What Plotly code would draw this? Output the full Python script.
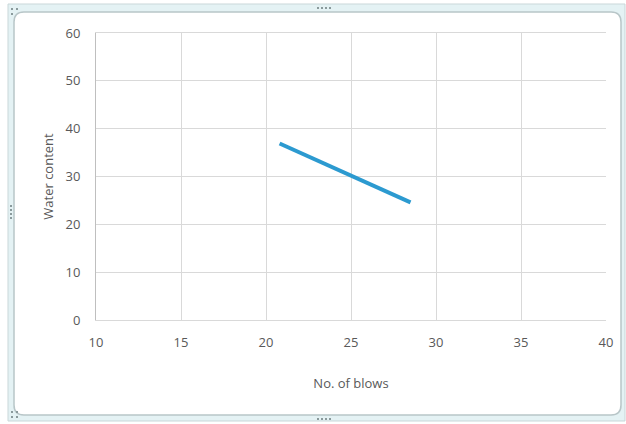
import plotly.graph_objects as go

# Liquid limit test: number of blows vs water content (%)
blows = [20.8, 28.5]
water_content = [36.9, 24.6]

x_ticks = [10, 15, 20, 25, 30, 35, 40]
y_ticks = [0, 10, 20, 30, 40, 50, 60]

W, H = 626, 424
ML, MR, MT, MB = 96, 20, 33, 104
PW, PH = W - ML - MR, H - MT - MB


def px(x):
    return (x - ML) / PW


def py(y):
    return (H - MB - y) / PH


def rounded_rect(x0, y0, x1, y1, r):
    a, b, c, d = px(x0), py(y0), px(x1), py(y1)
    rx, ry = r / PW, r / PH
    return (f"M {a + rx} {b} L {c - rx} {b} Q {c} {b} {c} {b - ry} "
            f"L {c} {d + ry} Q {c} {d} {c - rx} {d} L {a + rx} {d} "
            f"Q {a} {d} {a} {d + ry} L {a} {b - ry} Q {a} {b} {a + rx} {b} Z")


shapes = [
    # outer frame band
    dict(type="rect", xref="paper", yref="paper", layer="below",
         x0=px(8), y0=py(4), x1=px(625), y1=py(421),
         fillcolor="#e4f2f4", line=dict(color="#c9d7d9", width=1)),
    # inner chart area
    dict(type="path", xref="paper", yref="paper", layer="below",
         path=rounded_rect(14, 12, 621, 415, 10),
         fillcolor="white", line=dict(color="#b8c6c8", width=1.5)),
]

# sizing handle dots
dots = []
for i in range(4):
    dots.append((318 + 4 * i, 8))
    dots.append((318 + 4 * i, 419))
    dots.append((11, 206 + 4 * i))
for (cx, cy) in [(12, 9), (17, 9), (12, 14), (12, 412), (17, 412), (12, 417), (17, 417)]:
    dots.append((cx, cy))
for (cx, cy) in dots:
    shapes.append(dict(type="rect", xref="paper", yref="paper",
                       x0=px(cx - 1), x1=px(cx + 1), y0=py(cy - 1), y1=py(cy + 1),
                       fillcolor="#8a9a9c", line=dict(width=0)))

fig = go.Figure(go.Scatter(
    x=blows, y=water_content, mode="lines",
    line=dict(color="#2c9ad0", width=4),
    showlegend=False,
))

font = dict(family="Open Sans, Liberation Sans, sans-serif", size=13, color="#595959")

fig.update_layout(
    width=W, height=H,
    margin=dict(l=ML, r=MR, t=MT, b=MB),
    paper_bgcolor="white", plot_bgcolor="white",
    font=font,
    shapes=shapes,
    xaxis=dict(range=[10, 40], tickvals=x_ticks, showgrid=True,
               gridcolor="#d9d9d9", gridwidth=1, zeroline=False,
               showline=True, linecolor="#d9d9d9", mirror=True,
               ticks="", ticklen=0, tickfont=dict(size=13, color="#595959"),
               title=dict(text="No. of blows", standoff=29,
                          font=dict(size=13, color="#595959"))),
    yaxis=dict(range=[0, 60], tickvals=y_ticks, showgrid=True,
               gridcolor="#d9d9d9", gridwidth=1, zeroline=False,
               showline=True, linecolor="#bfbfbf", mirror=False,
               ticks="", ticklen=0, tickfont=dict(size=13, color="#595959"),
               title=dict(text="Water content", standoff=8,
                          font=dict(size=13, color="#595959"))),
)
fig.update_xaxes(ticklabelstandoff=10)
fig.update_yaxes(ticklabelstandoff=12)

fig.write_html("out.html")
